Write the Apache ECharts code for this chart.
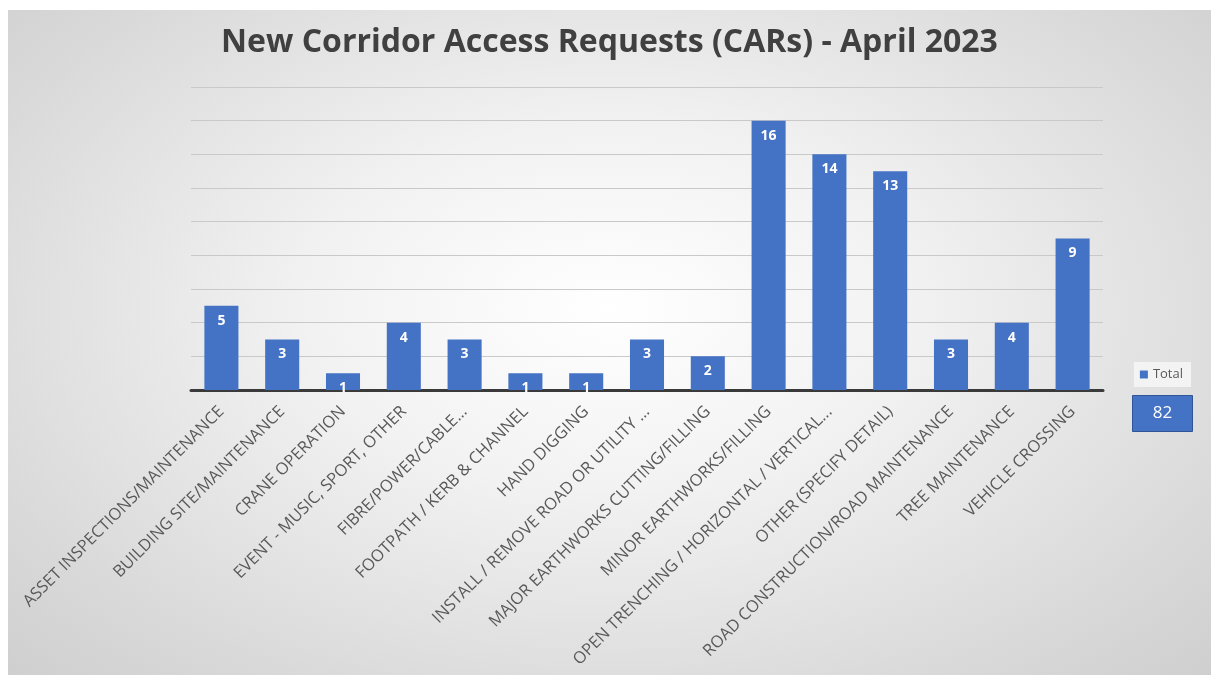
<!DOCTYPE html>
<html><head><meta charset="utf-8">
<script src="https://cdn.jsdelivr.net/npm/echarts@6/dist/echarts.min.js"></script>
<style>
html,body{margin:0;padding:0;background:#fff;}
#wrap{position:absolute;left:8px;top:10px;width:1203px;height:665px;
background:radial-gradient(ellipse at 50% 45%, #ffffff 0%, #f2f2f2 35%, #d9d9d9 80%, #cfcfcf 100%);}
#c{width:1203px;height:665px;}
</style></head>
<body><div id="wrap"><div id="c"></div></div>
<script>
const categories = [
  "ASSET INSPECTIONS/MAINTENANCE",
  "BUILDING SITE/MAINTENANCE",
  "CRANE OPERATION",
  "EVENT - MUSIC, SPORT, OTHER",
  "FIBRE/POWER/CABLE...",
  "FOOTPATH / KERB & CHANNEL",
  "HAND DIGGING",
  "INSTALL / REMOVE ROAD OR UTILITY ...",
  "MAJOR EARTHWORKS CUTTING/FILLING",
  "MINOR EARTHWORKS/FILLING",
  "OPEN TRENCHING / HORIZONTAL / VERTICAL...",
  "OTHER (SPECIFY DETAIL)",
  "ROAD CONSTRUCTION/ROAD MAINTENANCE",
  "TREE MAINTENANCE",
  "VEHICLE CROSSING"
];
const totals = [5, 3, 1, 4, 3, 1, 1, 3, 2, 16, 14, 13, 3, 4, 9];
const titleText = "New Corridor Access Requests (CARs) - April 2023";
const seriesName = "Total";
const grandTotal = totals.reduce((a,b)=>a+b,0);

const chart = echarts.init(document.getElementById('c'));
chart.setOption({
  backgroundColor: 'transparent',
  title: {
    text: titleText, left: 'center', top: 12,
    textStyle: {fontFamily: 'Open Sans', fontWeight: 'bold', fontSize: 32, color: '#404040'}
  },
  legend: {
    data: [seriesName], right: 20, top: 352, icon: 'rect', itemWidth: 8, itemHeight: 8, itemGap: 4,
    backgroundColor: 'rgba(245,245,245,0.9)', padding: [6,8,6,6],
    textStyle: {fontFamily: 'Open Sans', fontSize: 13, color: '#595959'}
  },
  grid: {left: 183, right: 108, top: 77, bottom: 285, containLabel: false},
  xAxis: {
    type: 'category', data: categories,
    axisLine: {lineStyle: {color: '#3a3a3a', width: 3}},
    axisTick: {show: false},
    axisLabel: {interval: 0, rotate: 45, fontFamily: 'Open Sans', fontSize: 16.5, color: '#595959', margin: 19}
  },
  yAxis: {
    type: 'value', min: 0, max: 18, interval: 2,
    axisLabel: {show: false}, axisLine: {show: false}, axisTick: {show: false},
    splitLine: {lineStyle: {color: '#c9c9c9', width: 1}}
  },
  series: [{
    name: seriesName, type: 'bar', data: totals, barWidth: '56%',
    itemStyle: {color: '#4472C4'},
    label: {show: true, position: 'insideTop', distance: 8, color: '#ffffff', fontFamily: 'Open Sans', fontWeight: 'bold', fontSize: 14}
  }],
  graphic: [{
    type: 'group', right: 18, top: 385,
    children: [
      {type: 'rect', shape: {x: 0, y: 0, width: 60, height: 36}, style: {fill: '#4472C4', stroke: '#2f5597', lineWidth: 1}},
      {type: 'text', style: {x: 30, y: 18, text: String(grandTotal), align: 'center', verticalAlign: 'middle', fill: '#ffffff', font: '17px "Open Sans"'}}
    ]
  }]
});
</script></body></html>
